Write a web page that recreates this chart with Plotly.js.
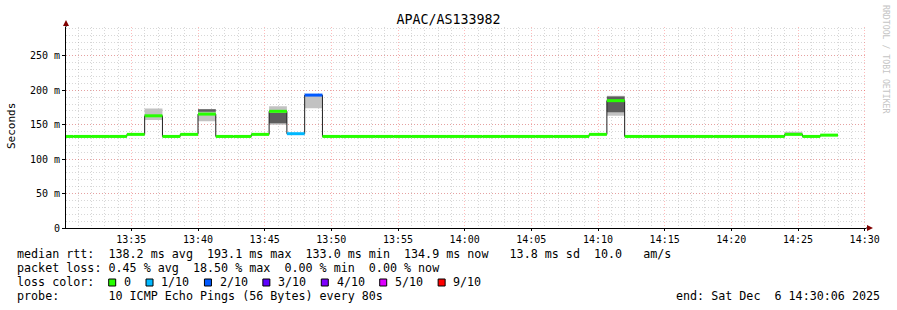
<!DOCTYPE html>
<html><head><meta charset="utf-8">
<script src="https://cdn.plot.ly/plotly-3.0.1.min.js"></script>
<style>html,body{margin:0;padding:0;background:#fff}#chart{width:897px;height:310px}</style>
</head><body><div id="chart"></div>
<script>
// ---------------- DATA ----------------
const chartTitle = 'APAC/AS133982';
const day = '2025-12-06 ';
const stepStarts = ['13:29:20','13:30:40','13:32:00','13:33:20','13:34:40','13:36:00','13:37:20','13:38:40',
  '13:40:00','13:41:20','13:42:40','13:44:00','13:45:20','13:46:40','13:48:00','13:49:20','13:50:40',
  '13:52:00','13:53:20','13:54:40','13:56:00','13:57:20','13:58:40','14:00:00','14:01:20','14:02:40',
  '14:04:00','14:05:20','14:06:40','14:08:00','14:09:20','14:10:40','14:12:00','14:13:20','14:14:40',
  '14:16:00','14:17:20','14:18:40','14:20:00','14:21:20','14:22:40','14:24:00','14:25:20','14:26:40'];
const stepEnd = '14:28:00';
const medianMs = [133,133,133,133,136,163,133,136,165.5,133,133,136,169.5,137,193.1,
  133,133,133,133,133,133,133,133,133,133,133,133,133,133,133,
  136,185,133,133,133,133,133,133,133,133,133,136,133,134.9];
const lossTenths = [0,0,0,0,0,0,0,0,0,0,0,0,0,1,2,
  0,0,0,0,0,0,0,0,0,0,0,0,0,0,0,
  0,0,0,0,0,0,0,0,0,0,0,0,0,0];
const smokeLo = [null,null,null,null,null,157,null,null,155,null,null,null,150,null,174,
  null,null,null,null,null,null,null,null,null,null,null,null,null,null,null,
  null,163,null,null,null,null,null,null,null,null,null,136,null,null];
const smokeHi = [null,null,null,null,null,173.5,null,null,172.5,null,null,null,177,null,193.1,
  null,null,null,null,null,null,null,null,null,null,null,null,null,null,null,
  null,192,null,null,null,null,null,null,null,null,null,140,null,null];
const coreLo = [null,null,null,null,null,null,null,null,169,null,null,null,152,null,null,
  null,null,null,null,null,null,null,null,null,null,null,null,null,null,null,
  null,168,null,null,null,null,null,null,null,null,null,null,null,null];
const coreHi = [null,null,null,null,null,null,null,null,172.5,null,null,null,167,null,null,
  null,null,null,null,null,null,null,null,null,null,null,null,null,null,null,
  null,191,null,null,null,null,null,null,null,null,null,null,null,null];
const xRange = ['13:30:06','14:30:06'];
const yTickVals = [0,50,100,150,200,250];
const yTickText = ['0','50 m','100 m','150 m','200 m','250 m'];
const yAxisTitle = 'Seconds';
const statLines = [
  'median rtt:  138.2 ms avg  193.1 ms max  133.0 ms min  134.9 ms now   13.8 ms sd  10.0   am/s',
  'packet loss: 0.45 % avg  18.50 % max  0.00 % min  0.00 % now',
  'loss color:',
  'probe:       10 ICMP Echo Pings (56 Bytes) every 80s'];
const lossClasses = [0,1,2,3,4,5,9];
const lossLabels = ['0','1/10','2/10','3/10','4/10','5/10','9/10'];
const lossColors = ['#26ff00','#00b8ff','#0059ff','#5e00ff','#7e00ff','#dd00ff','#ff0000'];
const endText = 'end: Sat Dec  6 14:30:06 2025';
const watermark = 'RRDTOOL / TOBI OETIKER';

// ---------------- BUILD ----------------
const T = s => day + s;
const ends = stepStarts.slice(1).concat([stepEnd]);
const nb = s => s.replace(/ /g, '\u00a0');

function bandTrace(lo, hi, color) {
  const x = [], y = [];
  lo.forEach((l, i) => {
    if (l == null) return;
    const a = T(stepStarts[i]), b = T(ends[i]);
    x.push(a, b, b, a, a, null);
    y.push(l, l, hi[i], hi[i], l, null);
  });
  return {x, y, type:'scatter', mode:'lines', fill:'toself', fillcolor:color,
    line:{width:0, color:color}, hoverinfo:'skip', showlegend:false};
}

const traces = [];
traces.push(bandTrace(smokeLo, smokeHi, '#c2c2c2'));
traces.push(bandTrace(coreLo, coreHi, '#5e5e5e'));

{
  const x = [], y = [];
  medianMs.forEach((v, i) => { x.push(T(stepStarts[i]), T(ends[i])); y.push(v, v); });
  traces.push({x, y, type:'scatter', mode:'lines', line:{color:'#202020', width:1},
    hoverinfo:'skip', showlegend:false});
}
lossClasses.forEach((lc, k) => {
  const x = [], y = [];
  medianMs.forEach((v, i) => {
    if (lossTenths[i] !== lc) return;
    x.push(T(stepStarts[i]), T(ends[i]), null);
    y.push(v, v, null);
  });
  if (x.length) traces.push({x, y, type:'scatter', mode:'lines',
    line:{color:lossColors[k], width:3}, hoverinfo:'skip', showlegend:false});
});

const L = 66, R = 866, TOP = 27, BOT = 228;
const px = v => (v - L) / (R - L);
const py = v => (BOT - v) / (BOT - TOP);

const annotations = [];
const shapes = [];
const lineY = [254, 268, 282, 296];
const FS = 11.7, CW = 7.03;
statLines.forEach((s, i) => {
  annotations.push({text: nb(s), x: px(16), y: py(lineY[i]), xref:'paper', yref:'paper',
    xanchor:'left', yanchor:'middle', showarrow:false, borderpad:0,
    font:{size:FS, family:'DejaVu Sans Mono', color:'#000'}});
});
let sx = 108.7;
lossLabels.forEach((lab, i) => {
  shapes.push({type:'rect', xref:'paper', yref:'paper', x0:px(sx), x1:px(sx+7), y0:py(286), y1:py(279),
    fillcolor:lossColors[i], line:{color:'#000', width:1}});
  annotations.push({text: lab, x: px(sx + 14.3), y: py(282), xref:'paper', yref:'paper',
    xanchor:'left', yanchor:'middle', showarrow:false, borderpad:0,
    font:{size:FS, family:'DejaVu Sans Mono', color:'#000'}});
  sx += 30.3 + CW * lab.length;
});
annotations.push({text: nb(endText), x: px(881), y: py(296), xref:'paper', yref:'paper',
  xanchor:'right', yanchor:'middle', showarrow:false, borderpad:0,
  font:{size:FS, family:'DejaVu Sans Mono', color:'#000'}});
annotations.push({text: yAxisTitle, x: px(11), y: py(126), xref:'paper', yref:'paper',
  xanchor:'center', yanchor:'middle', textangle:-90, showarrow:false, borderpad:0,
  font:{size:11, family:'DejaVu Sans Mono', color:'#000'}});
annotations.push({text: nb(watermark), x: px(886), y: py(60), xref:'paper', yref:'paper',
  xanchor:'center', yanchor:'middle', textangle:90, showarrow:false, borderpad:0,
  font:{size:8.2, family:'DejaVu Sans Mono', color:'#c4c4c4'}});

shapes.push({type:'line', xref:'paper', yref:'paper', x0:px(866), x1:px(869), y0:py(228), y1:py(228), line:{color:'#000', width:1}});
shapes.push({type:'path', xref:'paper', yref:'paper',
  path:`M ${px(867)},${py(225)} L ${px(873)},${py(228)} L ${px(867)},${py(231)} Z`, fillcolor:'#800000', line:{width:0}});
shapes.push({type:'line', xref:'paper', yref:'paper', x0:px(66), x1:px(66), y0:py(27), y1:py(24), line:{color:'#000', width:1}});
shapes.push({type:'path', xref:'paper', yref:'paper',
  path:`M ${px(63)},${py(26)} L ${px(66)},${py(20)} L ${px(69)},${py(26)} Z`, fillcolor:'#800000', line:{width:0}});

const majorGrid = 'rgba(255,60,60,0.35)';
const minorGrid = 'rgba(130,130,130,0.32)';
const layout = {
  width:897, height:310, margin:{l:66, r:31, t:27, b:82},
  paper_bgcolor:'#fff', plot_bgcolor:'#fff', showlegend:false,
  font:{family:'DejaVu Sans Mono', size:10, color:'#000'},
  title:{text:chartTitle, x:0.5, xref:'container', xanchor:'center', y:1 - 19/310, yref:'container',
    yanchor:'middle', font:{size:13.3, family:'DejaVu Sans Mono', color:'#000'}},
  xaxis:{type:'date', range:[T(xRange[0]), T(xRange[1])], tickformat:'%H:%M', dtick:300000,
    tick0:T('13:30:00'), showgrid:true, gridcolor:majorGrid, griddash:'1px,2px', gridwidth:1,
    minor:{dtick:60000, tick0:T('13:30:00'), showgrid:true, gridcolor:minorGrid, griddash:'1px,2px', gridwidth:1},
    showline:true, linecolor:'#000', linewidth:1, ticks:'outside', ticklen:2, tickcolor:'#000',
    zeroline:false, fixedrange:true, tickfont:{size:10}},
  yaxis:{range:[0, 292], tickvals:yTickVals, ticktext:yTickText, showgrid:true, gridcolor:majorGrid,
    griddash:'1px,2px', gridwidth:1,
    minor:{dtick:10, tick0:0, showgrid:true, gridcolor:minorGrid, griddash:'1px,2px', gridwidth:1},
    showline:true, linecolor:'#000', linewidth:1, ticks:'outside', ticklen:3, tickcolor:'#000',
    zeroline:false, fixedrange:true, tickfont:{size:10}},
  annotations, shapes
};
Plotly.newPlot('chart', traces, layout, {staticPlot:true, displayModeBar:false});
</script></body></html>
